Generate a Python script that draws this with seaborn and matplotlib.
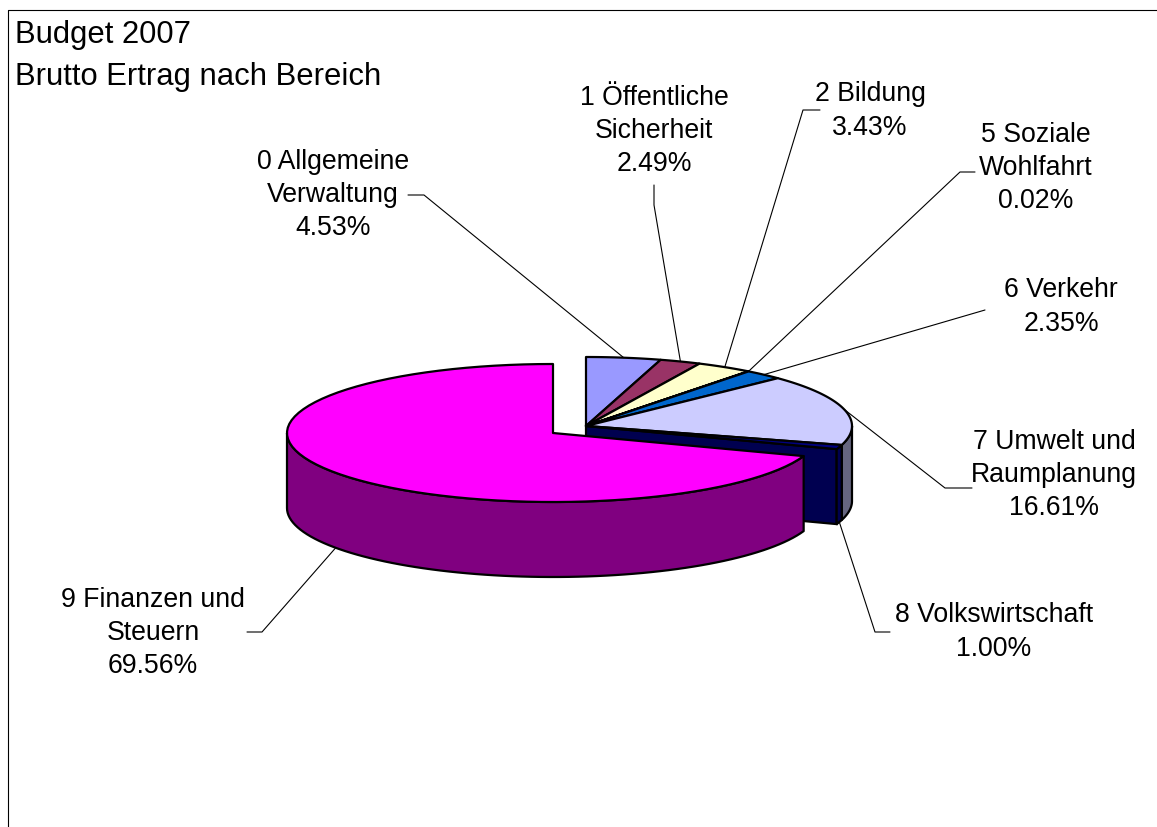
import numpy as np
import seaborn as sns
import matplotlib
matplotlib.use("Agg")
import matplotlib.pyplot as plt

# Daten
TITLE_LINES = ["Budget 2007", "Brutto Ertrag nach Bereich"]
CATEGORIES = [
    "0 Allgemeine\nVerwaltung",
    "1 Öffentliche\nSicherheit",
    "2 Bildung",
    "5 Soziale\nWohlfahrt",
    "6 Verkehr",
    "7 Umwelt und\nRaumplanung",
    "8 Volkswirtschaft",
    "9 Finanzen und\nSteuern",
]
VALUES = [4.53, 2.49, 3.43, 0.02, 2.35, 16.61, 1.00, 69.56]
TOP_COLORS = ["#9999FF", "#993366", "#FFFFCC", "#CCFFFF", "#0066CC", "#CCCCFF", "#000080", "#FF00FF"]
SIDE_COLORS = {5: "#666680", 6: "#000050", 7: "#800080"}

# Layout in Pixeln
W, H = 1157, 827
RX, RY, DEPTH = 266, 69, 75
CENTER = (586, 426)
CENTER_BIG = (553, 433)  # das grosse Stueck ist herausgezogen
LABEL_POS = [(333, 195), (654, 131), (870, 111), (1036, 168),
             (1061, 307), (1054, 475), (994, 632), (153, 633)]
ELBOWS = [
    [(424, 195), (408, 195)],
    [(654, 205), (654, 185)],
    [(803, 110), (820, 110)],
    [(960, 172), (975, 172)],
    [(985, 310)],
    [(945, 488), (972, 488)],
    [(875, 632), (890, 632)],
    [(262, 632), (247, 632)],
]
LW = 1.6


def rim(center, a0, a1, dy=0, n=80):
    # Winkel im Uhrzeigersinn ab 12 Uhr
    t = np.radians(np.linspace(a0, a1, n))
    return center[0] + RX * np.sin(t), center[1] - RY * np.cos(t) + dy


def top_wedge(ax, center, a0, a1, color):
    x, y = rim(center, a0, a1)
    ax.fill(np.r_[center[0], x], np.r_[center[1], y], fc=color, ec="black", lw=LW, joinstyle="round")


def side_band(ax, center, a0, a1, color):
    x, y = rim(center, a0, a1)
    xb, yb = rim(center, a1, a0, dy=DEPTH)
    ax.fill(np.r_[x, xb], np.r_[y, yb], fc=color, ec="black", lw=LW, joinstyle="round")


def plot_pie():
    sns.set_theme(style="white")
    plt.rcParams["font.family"] = ["Liberation Sans", "DejaVu Sans"]
    palette = sns.color_palette(TOP_COLORS)

    fig = plt.figure(figsize=(W / 100, H / 100), dpi=100)
    ax = fig.add_axes([0, 0, 1, 1])
    ax.set_xlim(0, W)
    ax.set_ylim(H, 0)
    ax.axis("off")

    # Rahmen
    ax.plot([8, 8, W], [H, 10, 10], color="black", lw=0.8)

    for i, line in enumerate(TITLE_LINES):
        ax.text(15, 35 + 42 * i, line, fontsize=22.3, color="black", ha="left", va="center")

    edges = np.r_[0, np.cumsum(VALUES)] / np.sum(VALUES) * 360
    big = len(VALUES) - 1

    # Schnittflaeche hinter dem grossen Stueck
    x, y = rim(CENTER, edges[big], edges[big], n=1)
    ax.fill([CENTER[0], x[0], x[0], CENTER[0]],
            [CENTER[1], y[0], y[0] + DEPTH, CENTER[1] + DEPTH],
            fc=SIDE_COLORS[6], ec="black", lw=LW)

    # Rand rechts, dann Deckflaechen
    side_band(ax, CENTER, 90, edges[6], SIDE_COLORS[5])
    side_band(ax, CENTER, edges[6], edges[7], SIDE_COLORS[6])
    for i in range(big):
        top_wedge(ax, CENTER, edges[i], edges[i + 1], palette[i])

    side_band(ax, CENTER_BIG, edges[big], 270, SIDE_COLORS[7])
    top_wedge(ax, CENTER_BIG, edges[big], edges[big + 1], palette[big])

    # Beschriftung und Fuehrungslinien
    for i, (name, val) in enumerate(zip(CATEGORIES, VALUES)):
        mid = (edges[i] + edges[i + 1]) / 2
        c = CENTER_BIG if i == big else CENTER
        dy = DEPTH if i >= 6 else 0
        px, py = rim(c, mid, mid, dy=dy, n=1)
        pts = [(px[0], py[0])] + ELBOWS[i]
        ax.plot([p[0] for p in pts], [p[1] for p in pts], color="black", lw=0.8)
        lx, ly = LABEL_POS[i]
        ax.text(lx, ly, f"{name}\n{val:.2f}%", fontsize=19.2, color="black",
                ha="center", va="center", linespacing=1.36)

    fig.savefig("out.png", dpi=100, facecolor="white")
    plt.close(fig)


if __name__ == "__main__":
    plot_pie()
